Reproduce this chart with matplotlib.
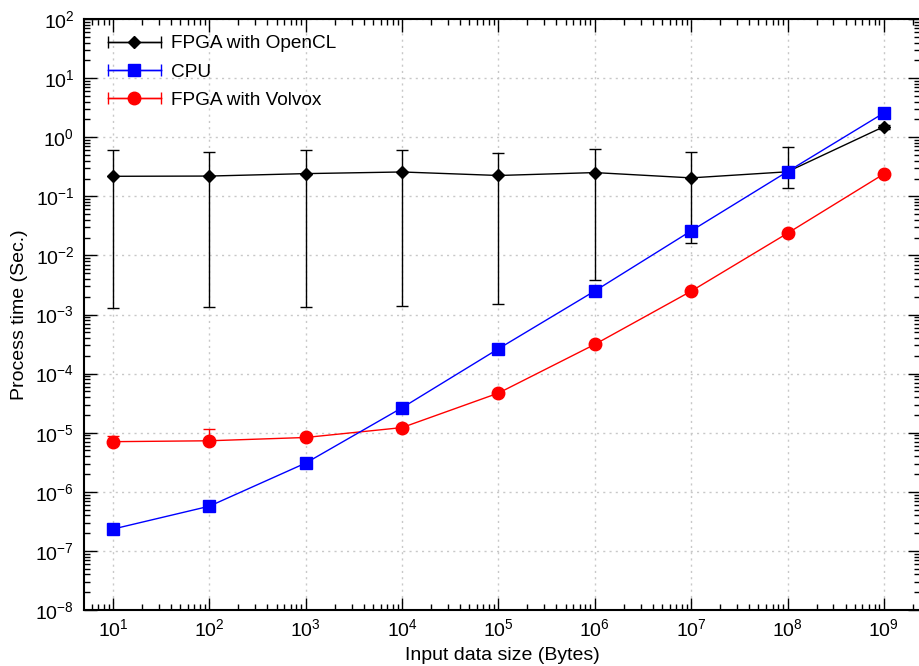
import matplotlib
matplotlib.use("Agg")
import matplotlib.pyplot as plt
import numpy as np
from matplotlib.lines import Line2D
from matplotlib.legend_handler import HandlerLine2D, HandlerTuple
from matplotlib.ticker import LogLocator, FixedLocator, NullFormatter

plt.rcParams['font.family'] = ['Liberation Sans', 'DejaVu Sans']
plt.rcParams['mathtext.fontset'] = 'custom'
plt.rcParams['mathtext.rm'] = 'Liberation Sans'
plt.rcParams['mathtext.it'] = 'Liberation Sans:italic'
plt.rcParams['mathtext.bf'] = 'Liberation Sans:bold'

# ---- data ----
sizes = [1e1, 1e2, 1e3, 1e4, 1e5, 1e6, 1e7, 1e8, 1e9]
x_tick_labels = ['$10^{1}$', '$10^{2}$', '$10^{3}$', '$10^{4}$', '$10^{5}$',
                 '$10^{6}$', '$10^{7}$', '$10^{8}$', '$10^{9}$']
y_tick_values = [1e-8, 1e-7, 1e-6, 1e-5, 1e-4, 1e-3, 1e-2, 1e-1, 1e0, 1e1, 1e2]
y_tick_labels = ['$10^{-8}$', '$10^{-7}$', '$10^{-6}$', '$10^{-5}$', '$10^{-4}$',
                 '$10^{-3}$', '$10^{-2}$', '$10^{-1}$', '$10^{0}$', '$10^{1}$', '$10^{2}$']

opencl = [0.218, 0.22, 0.242, 0.258, 0.225, 0.252, 0.205, 0.26, 1.51]
opencl_low = [0.0013, 0.00133, 0.00135, 0.00137, 0.00153, 0.0038, 0.0163, 0.139, 1.40]
opencl_high = [0.61, 0.555, 0.61, 0.60, 0.55, 0.62, 0.56, 0.675, 1.62]

cpu = [2.34e-7, 5.7e-7, 3.06e-6, 2.64e-5, 2.63e-4, 2.5e-3, 0.026, 0.262, 2.57]

volvox = [7.05e-6, 7.3e-6, 8.3e-6, 1.22e-5, 4.68e-5, 3.12e-4, 2.48e-3, 0.0237, 0.239]
volvox_low = [6.6e-6, 7.0e-6, 8.3e-6, 1.22e-5, 4.68e-5, 3.12e-4, 2.48e-3, 0.0237, 0.239]
volvox_high = [8.8e-6, 1.14e-5, 8.3e-6, 1.22e-5, 4.68e-5, 3.12e-4, 2.48e-3, 0.0237, 0.239]

labels = ['FPGA with OpenCL', 'CPU', 'FPGA with Volvox']

# ---- figure ----
fig = plt.figure(figsize=(9.2, 6.66), dpi=100)
ax = fig.add_axes([84/920, 1 - 610/666, (920.5 - 84)/920, (610 - 19)/666])

op = np.array(opencl)
ax.errorbar(sizes, opencl,
            yerr=[op - np.array(opencl_low), np.array(opencl_high) - op],
            color='black', marker='D', markersize=6, lw=1.0, elinewidth=1.0,
            capsize=4.5, capthick=1.0, zorder=3)
ax.plot(sizes, cpu, color='blue', marker='s', markersize=9, lw=1.0, zorder=4)
vv = np.array(volvox)
ax.errorbar(sizes, volvox,
            yerr=[vv - np.array(volvox_low), np.array(volvox_high) - vv],
            color='red', marker='o', markersize=9, lw=1.0, elinewidth=1.0,
            capsize=4.5, capthick=1.0, zorder=3)

ax.set_xscale('log')
ax.set_yscale('log')
ax.set_xlim(10 ** 0.7, 10 ** 9.38)
ax.set_ylim(1e-8, 1e2)

ax.xaxis.set_major_locator(FixedLocator(sizes))
ax.set_xticklabels(x_tick_labels)
ax.yaxis.set_major_locator(FixedLocator(y_tick_values))
ax.set_yticklabels(y_tick_labels)
ax.xaxis.set_minor_locator(LogLocator(base=10, subs=np.arange(2, 10), numticks=100))
ax.yaxis.set_minor_locator(LogLocator(base=10, subs=np.arange(2, 10), numticks=100))
ax.xaxis.set_minor_formatter(NullFormatter())
ax.yaxis.set_minor_formatter(NullFormatter())

ax.tick_params(which='both', direction='in', top=True, right=True, width=1.0, color='black')
ax.tick_params(which='major', length=9)
ax.tick_params(which='minor', length=4.5)
ax.tick_params(axis='x', which='major', labelsize=14, pad=6)
ax.tick_params(axis='y', which='major', labelsize=14, pad=7)

for s in ax.spines.values():
    s.set_linewidth(1.5)

ax.grid(True, which='major', linestyle=(0, (1.5, 3)), color='#c8c8c8', linewidth=1.0)
ax.set_axisbelow(True)

ax.set_xlabel('Input data size (Bytes)', fontsize=14, labelpad=5)
ax.set_ylabel('Process time (Sec.)', fontsize=14, labelpad=5)

# legend with horizontal-capped handles
colors = ['black', 'blue', 'red']
markers = [('D', 6), ('s', 9), ('o', 9)]
handles = []
hmap = {}
for c, (m, ms) in zip(colors, markers):
    main = Line2D([], [], color=c, marker=m, markersize=ms, lw=1.0)
    cap = Line2D([], [], color=c, marker='|', markersize=9, markeredgewidth=1.0, lw=1.0)
    hmap[cap] = HandlerLine2D(numpoints=2, marker_pad=0.0)
    handles.append((cap, main))
hmap[tuple] = HandlerTuple(ndivide=1)
leg = ax.legend(handles, labels, loc='upper left', frameon=False, fontsize=13.7,
                handlelength=2.8, handletextpad=0.55, labelspacing=0.58,
                numpoints=1, borderaxespad=0.0, handler_map=hmap,
                bbox_to_anchor=(16/836, 1 - 8.5/591))

fig.savefig('out.png', dpi=100)
